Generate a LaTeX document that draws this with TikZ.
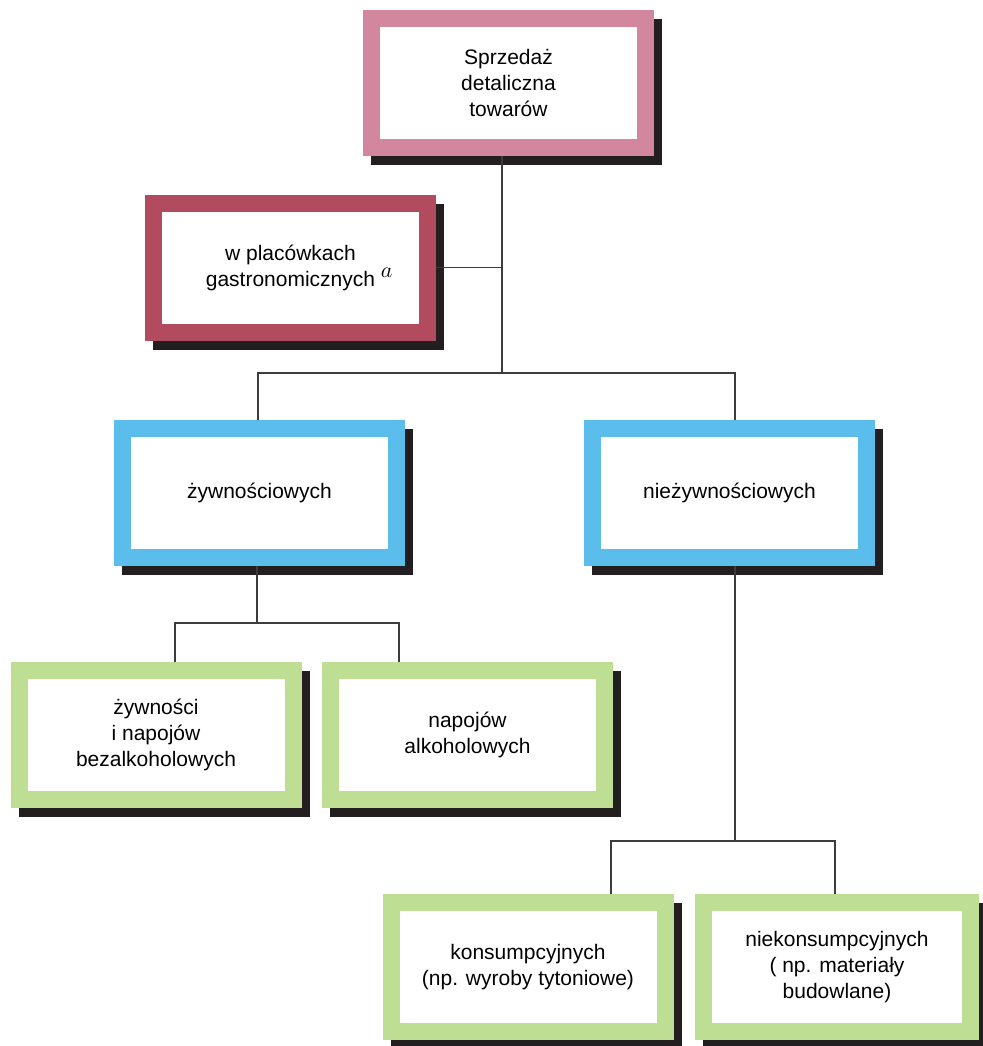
\documentclass[tikz,border=0pt]{standalone}
\usepackage{fontspec}
\setmainfont{Liberation Sans}
\usetikzlibrary{shadows, calc}
\definecolor{pinkc}{RGB}{211,135,158}
\definecolor{wineC}{RGB}{178,75,94}
\definecolor{blueC}{RGB}{90,189,235}
\definecolor{greenC}{RGB}{189,222,147}
\definecolor{shadowC}{RGB}{35,31,32}
\definecolor{lineC}{RGB}{60,60,60}
\newcommand{\boxtext}{\fontsize{10.5}{13}\selectfont}
\tikzstyle{boxes} = [rectangle, minimum width=137pt, minimum height=64.5pt, text centered,
align=center, font=\boxtext, fill=white, line width=8.5pt,
general shadow={fill=shadowC, draw=shadowC, line width=8.5pt, shadow xshift=4pt, shadow yshift=-4.5pt}]
\tikzstyle{link} = [draw=lineC, line width=0.75pt]

\begin{document}
\begin{tikzpicture}[x=0.5pt, y=-0.5pt]
    \useasboundingbox (0,0) rectangle (982,1046);

    %Main Nodes
    \node (retail) [boxes, draw=pinkc] at (508.5,82.5) {Sprzedaż\\detaliczna\\towarów};
    \node (gastro) [boxes, draw=wineC] at (290.5,267.5) {w placówkach\\gastronomicznych\rlap{ \raisebox{0.75ex}{$a$}}};
    \node (food) [boxes, draw=blueC] at (259.5,493) {żywnościowych};
    \node (nonFood) [boxes, draw=blueC] at (729.5,493) {nieżywnościowych};

    %Lower Nodes
    \node (foodDrinks) [boxes, draw=greenC] at (156,735) {żywności\\i napojów\\bezalkoholowych};
    \node (alcohol) [boxes, draw=greenC] at (467.5,735) {napojów\\alkoholowych};
    \node (consum) [boxes, draw=greenC] at (528,967) {konsumpcyjnych\\(np. wyroby tytoniowe)};
    \node (nonConsum) [boxes, draw=greenC, minimum width=133.5pt] at (837,967) {niekonsumpcyjnych\\( np. materiały\\budowlane)};

    %Junctions
    \coordinate (hub) at (502,373);
    \coordinate (foodHub) at (257,623);
    \coordinate (nonFoodHub) at (735,841);

    %Lines
    \draw [link] ($(retail.south)+(-6.5,0)$) -- (hub);
    \draw [link] (gastro.east) -- (gastro.east -| hub);
    \draw [link] ($(food.north)+(-1.5,0)$) |- (hub) -| ($(nonFood.north)+(5.5,0)$);
    \draw [link] (food.south -| foodHub) -- (foodHub);
    \draw [link] ($(foodDrinks.north)+(19,0)$) |- (foodHub) -| ($(alcohol.north)+(-68.5,0)$);
    \draw [link] ($(nonFood.south)+(5.5,0)$) -- (nonFoodHub);
    \draw [link] ($(consum.north)+(83,0)$) |- (nonFoodHub) -| ($(nonConsum.north)+(-2,0)$);

\end{tikzpicture}
\end{document}
